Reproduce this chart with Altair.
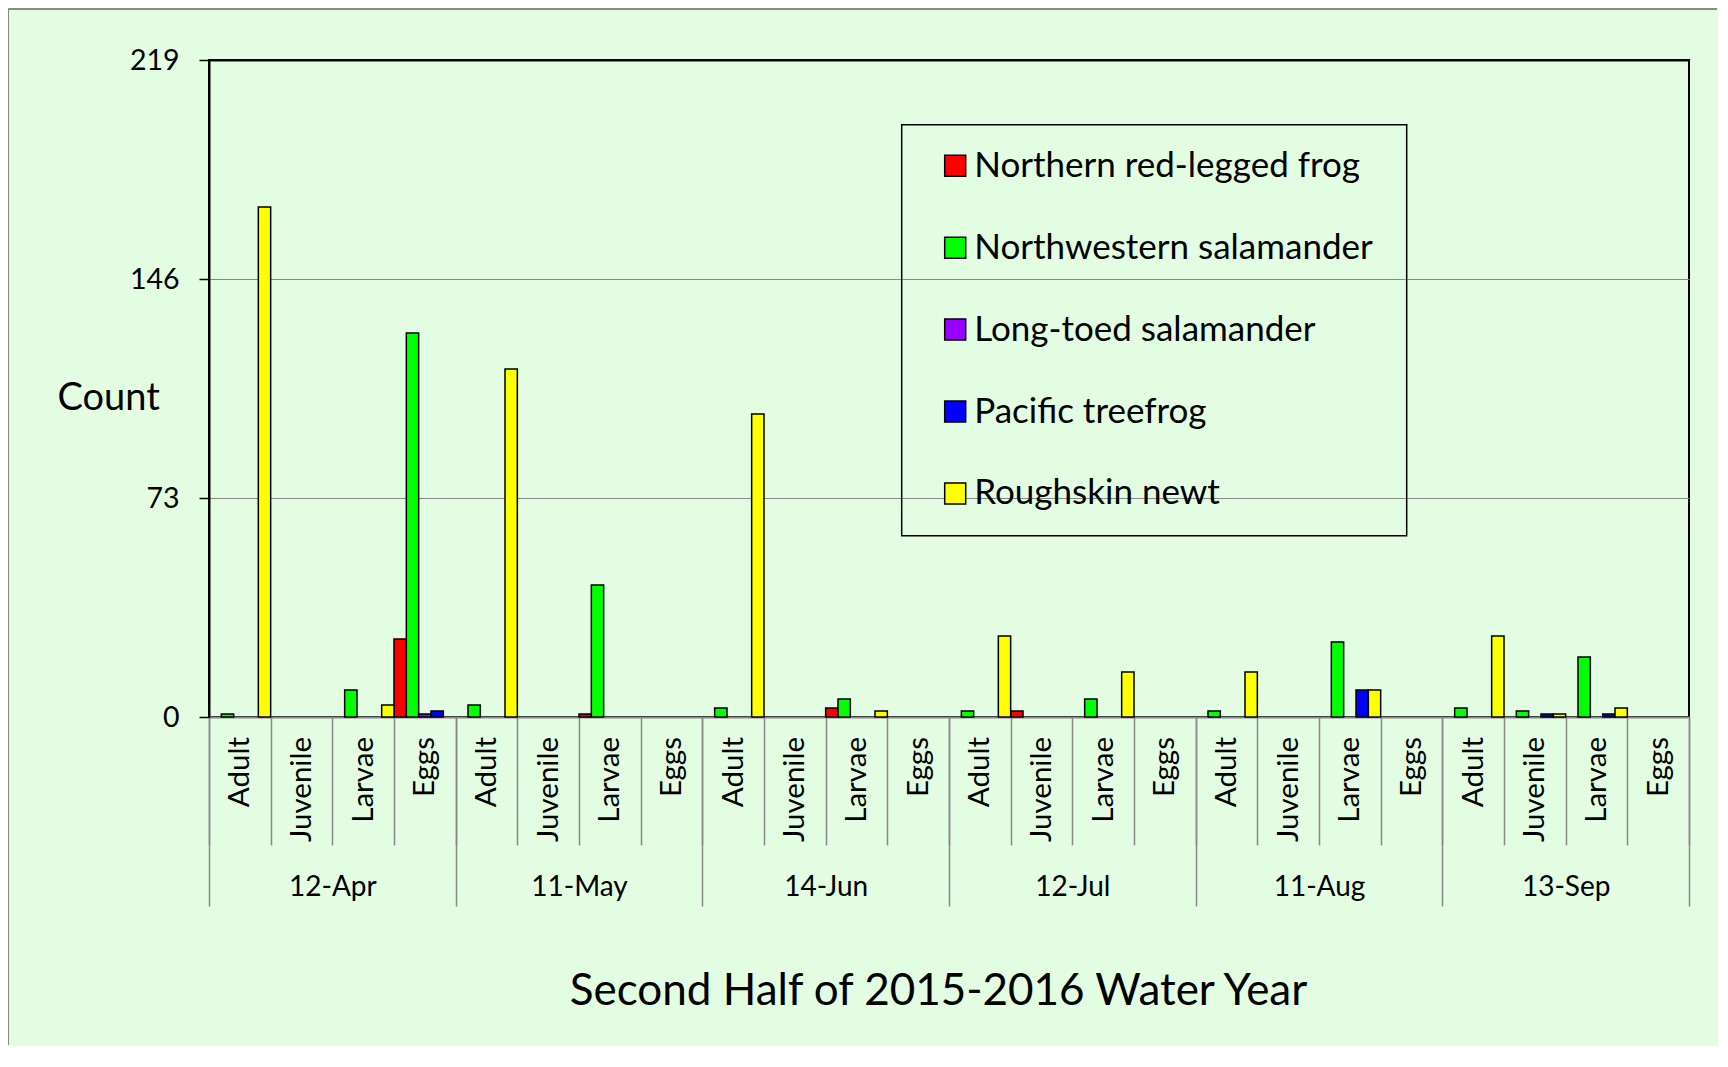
import altair as alt
import pandas as pd

dates = ["12-Apr", "11-May", "14-Jun", "12-Jul", "11-Aug", "13-Sep"]
stages = ["Adult", "Juvenile", "Larvae", "Eggs"]
species = ["Northern red-legged frog", "Northwestern salamander",
           "Long-toed salamander", "Pacific treefrog", "Roughskin newt"]
colors = ["#FF0000", "#00FF00", "#9900FF", "#0000FF", "#FFFF00"]

# values per category: date x (Adult, Juvenile, Larvae, Eggs)
red_legged_frog = [0, 0, 0, 26,   0, 0, 1, 0,    0, 0, 3, 0,   0, 2, 0, 0,    0, 0, 0, 0,   0, 0, 0, 0]
nw_salamander   = [1, 0, 9, 128,  4, 0, 44, 0,   3, 0, 6, 0,   2, 0, 6, 0,    2, 0, 25, 0,  3, 2, 20, 0]
longtoed_sal    = [0, 0, 0, 1,    0, 0, 0, 0,    0, 0, 0, 0,   0, 0, 0, 0,    0, 0, 0, 0,   0, 0, 0, 0]
pacific_tree    = [0, 0, 0, 2,    0, 0, 0, 0,    0, 0, 0, 0,   0, 0, 0, 0,    0, 0, 9, 0,   0, 1, 1, 0]
roughskin_newt  = [170, 0, 4, 0,  116, 0, 0, 0,  101, 0, 2, 0, 27, 0, 15, 0,  15, 0, 9, 0,  27, 1, 3, 0]

y_ticks = [0, 73, 146, 219]

cats = [f"{d}|{s}" for d in dates for s in stages]
series = [red_legged_frog, nw_salamander, longtoed_sal, pacific_tree, roughskin_newt]
rows = []
for sp, vals in zip(species, series):
    for c, v in zip(cats, vals):
        if v > 0:
            rows.append({"cat": c, "species": sp, "count": v})
df = pd.DataFrame(rows)
dates_df = pd.DataFrame({"date": dates})

FONT = "Lato"
GRAY = "#888888"

bars = alt.Chart(df).mark_bar(stroke="black", strokeWidth=1.5).encode(
    x=alt.X(
        "cat:N", sort=cats,
        scale=alt.Scale(type="band", domain=cats, paddingInner=0, paddingOuter=0),
        axis=alt.Axis(
            title=None, orient="bottom",
            labelExpr="split(datum.label, '|')[1]",
            labelAngle=270, labelAlign="right", labelBaseline="middle",
            labelFont=FONT, labelFontSize=29.5, labelColor="black",
            labelPadding=-108.5, labelOverlap=False,
            tickBand="extent", tickSize=128, tickColor=GRAY, tickWidth=1.5,
            domainColor=GRAY, domainWidth=2, grid=False,
        ),
    ),
    xOffset=alt.XOffset(
        "species:N", sort=species,
        scale=alt.Scale(domain=species, paddingInner=0, paddingOuter=0),
    ),
    y=alt.Y(
        "count:Q",
        scale=alt.Scale(domain=[0, 219], nice=False, zero=True),
        axis=alt.Axis(
            values=y_ticks, title="Count",
            titleAngle=0, titleAlign="left", titleBaseline="alphabetic",
            titleX=-152, titleY=349.8, titleFont=FONT, titleFontSize=38,
            titleFontWeight="normal", titleColor="black",
            labelFont=FONT, labelFontSize=28.5, labelColor="black", labelPadding=20,
            tickSize=10, tickColor="black", tickWidth=1.5,
            domainColor="black", domainWidth=2,
            grid=True,
            gridColor={"condition": {"test": "datum.value === 219", "value": "black"}, "value": GRAY},
            gridWidth={"condition": {"test": "datum.value === 219", "value": 2}, "value": 1},
        ),
    ),
    color=alt.Color(
        "species:N", sort=species,
        scale=alt.Scale(domain=species, range=colors),
        legend=alt.Legend(title="\u00a0", titleOrient="right", titlePadding=10,
                          titleFontSize=12),
    ),
)

date_layer = alt.Chart(dates_df).mark_point(opacity=0, size=1).encode(
    x=alt.X(
        "date:N", sort=dates,
        scale=alt.Scale(type="band", domain=dates, paddingInner=0, paddingOuter=0),
        axis=alt.Axis(
            orient="bottom",
            title="Second Half of 2015-2016 Water Year",
            titleX=729, titleY=287.5, titleAlign="center", titleBaseline="alphabetic",
            titleFont=FONT, titleFontSize=44, titleFontWeight="normal", titleColor="black",
            labelAngle=0, labelAlign="center", labelBaseline="alphabetic",
            labelFont=FONT, labelFontSize=28, labelColor="black",
            labelPadding=-10.5, labelOverlap=False,
            tickBand="extent", tickSize=189, tickColor=GRAY, tickWidth=1.5,
            domain=False, grid=False,
        ),
    ),
)

frame_top = alt.Chart(dates_df).mark_rule(color=GRAY, strokeWidth=1).encode(
    x=alt.value(-200.5), x2=alt.value(1508), y=alt.value(-51)
)
frame_left = alt.Chart(dates_df).mark_rule(color=GRAY, strokeWidth=1).encode(
    x=alt.value(-200.5), y=alt.value(-51), y2=alt.value(985)
)

chart = alt.layer(frame_top, frame_left, bars, date_layer).resolve_scale(
    x="independent"
).properties(
    width=1480, height=657, padding=0, background="#E3FDE3"
).configure(
    font=FONT
).configure_view(
    stroke="black", strokeWidth=2
).configure_legend(
    orient="none", legendX=692.7, legendY=64.8,
    padding=23.5, strokeColor="black", strokeWidth=1.5,
    symbolType="square", symbolSize=441, symbolStrokeColor="black",
    symbolStrokeWidth=1.5, symbolOffset=12.5, symbolOpacity=1,
    labelFont=FONT, labelFontSize=35, labelColor="black", labelOffset=1.5,
    labelLimit=800, rowPadding=45.9,
)

chart.save("out.html", embed_options={"renderer": "svg", "actions": False})
